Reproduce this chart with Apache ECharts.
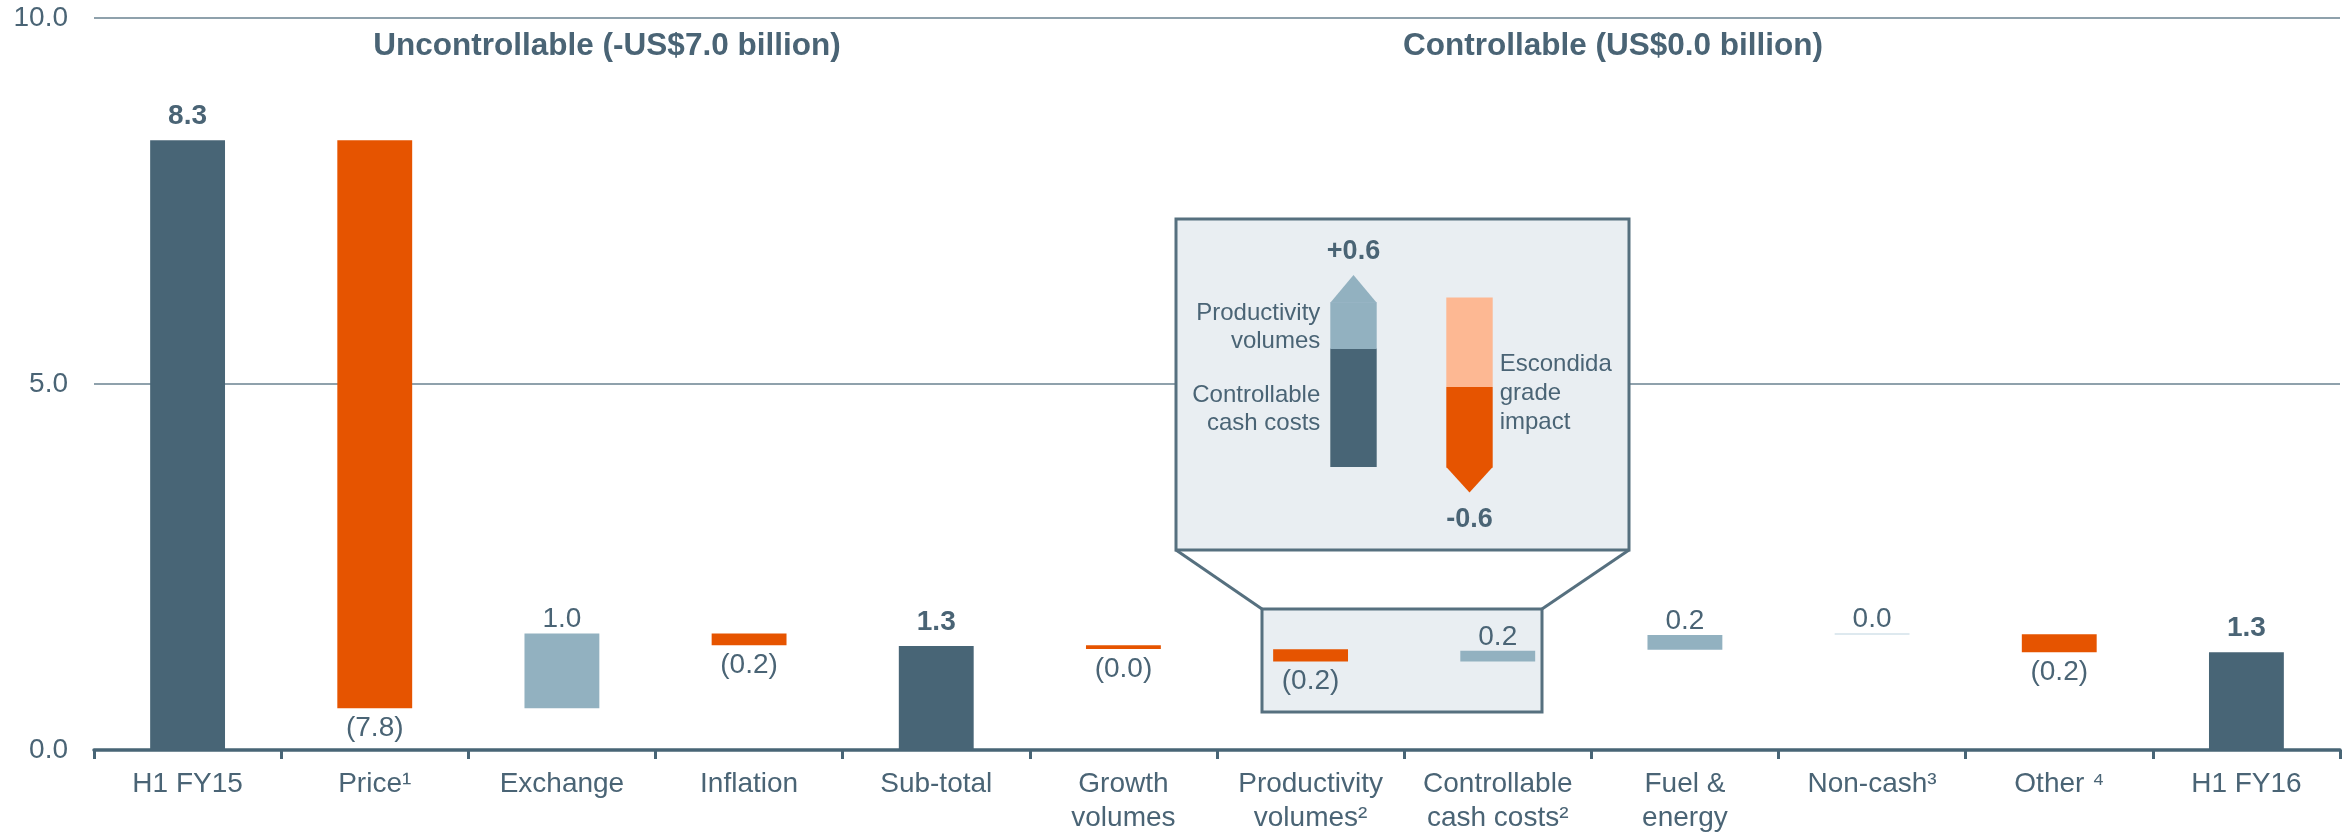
<!DOCTYPE html>
<html><head><meta charset="utf-8">
<script src="https://cdn.jsdelivr.net/npm/echarts@6/dist/echarts.min.js"></script>
<style>html,body{margin:0;padding:0;background:#fff}#c{width:2351px;height:836px}</style>
</head><body><div id="c"></div>
<script>
// ---- Main waterfall data ----
const categories = ['H1 FY15', 'Price¹', 'Exchange', 'Inflation', 'Sub-total', 'Growth\nvolumes',
  'Productivity\nvolumes²', 'Controllable\ncash costs²', 'Fuel &\nenergy', 'Non-cash³', 'Other ⁴', 'H1 FY16'];
const barLow  = [0,    0.57, 0.57, 1.43, 0,    1.38, 1.21,  1.21,  1.37, 1.575, 1.335, 0];
const barHigh = [8.33, 8.33, 1.59, 1.59, 1.42, 1.43, 1.375, 1.355, 1.57, 1.595, 1.58,  1.335];
const valueLabels = ['8.3', '(7.8)', '1.0', '(0.2)', '1.3', '(0.0)', '(0.2)', '0.2', '0.2', '0.0', '(0.2)', '1.3'];
const barKind = ['total', 'down', 'up', 'down', 'total', 'down', 'down', 'up', 'up', 'flat', 'down', 'total'];
const yTicks = [0, 5, 10];
const groupTitles = ['Uncontrollable (-US$7.0 billion)', 'Controllable (US$0.0 billion)'];

// ---- Inset data ----
const insetCats = ['Cash costs + productivity', 'Escondida grade impact'];
const insetUpStack = [0.37, 0.145, 0.085];      // controllable cash costs, productivity volumes, arrow head
const insetDownStart = 0.53;
const insetDownStack = [0.28, 0.25, 0.08];      // light part, dark part, arrow head
const insetTotals = ['+0.6', '-0.6'];
const insetUpNames = ['Controllable\ncash costs', 'Productivity\nvolumes'];
const insetDownName = 'Escondida\ngrade\nimpact';

const FONT = '"Liberation Sans", Arial, Helvetica, sans-serif';
const TXT = '#4a6475';
const DARK = '#486576', ORANGE = '#e65400', LIGHTBLUE = '#92b1c0', LIGHTORANGE = '#fdb893';
const colorFor = { total: DARK, down: ORANGE, up: LIGHTBLUE, flat: '#d3e2ea' };

function renderMain(params, api) {
  const i = api.value(0);
  const lo = api.coord([i, api.value(1)]);
  const hi = api.coord([i, api.value(2)]);
  const bw = api.size([1, 0])[0] * 0.4;
  const kind = barKind[i];
  const h = Math.max(lo[1] - hi[1], 1.5);
  const above = kind !== 'down';
  const bold = kind === 'total';
  return {
    type: 'group',
    children: [
      { type: 'rect', shape: { x: lo[0] - bw / 2, y: hi[1], width: bw, height: h }, style: { fill: colorFor[kind] } },
      { type: 'text', x: lo[0], y: above ? hi[1] - (bold ? 10 : 0) : hi[1] + h + 6,
        style: { text: valueLabels[i], fill: TXT, font: (bold ? 'bold ' : '') + '28px ' + FONT,
                 align: 'center', verticalAlign: above ? 'bottom' : 'top' } }
    ]
  };
}

function renderInset(params, api) {
  const i = params.dataIndex;
  const bw = api.size([1, 0])[0] * 0.4;
  const cx = api.coord([i, 0])[0];
  const L = cx - bw / 2, R = cx + bw / 2;
  const Y = v => api.coord([i, v])[1];
  const txt = (text, x, y, align, vAlign, bold, size, lh) => ({
    type: 'text', x, y, style: { text, fill: TXT, font: (bold ? 'bold ' : '') + size + 'px ' + FONT,
      align, verticalAlign: vAlign, lineHeight: lh } });
  const ch = [];
  if (i === 0) {
    const t1 = insetUpStack[0], t2 = t1 + insetUpStack[1], t3 = t2 + insetUpStack[2];
    ch.push({ type: 'rect', shape: { x: L, y: Y(t1), width: bw, height: Y(0) - Y(t1) }, style: { fill: DARK } });
    ch.push({ type: 'rect', shape: { x: L, y: Y(t2), width: bw, height: Y(t1) - Y(t2) + 0.5 }, style: { fill: LIGHTBLUE } });
    ch.push({ type: 'polygon', shape: { points: [[L, Y(t2) + 0.5], [R, Y(t2) + 0.5], [cx, Y(t3)]] }, style: { fill: LIGHTBLUE } });
    ch.push(txt(insetTotals[0], cx, Y(t3) - 8, 'center', 'bottom', true, 27, 30));
    ch.push(txt(insetUpNames[1], L - 10, Y((t1 + t2) / 2) + 2, 'right', 'middle', false, 24, 28));
    ch.push(txt(insetUpNames[0], L - 10, Y(t1 / 2) + 2, 'right', 'middle', false, 24, 28));
  } else {
    const s0 = insetDownStart, s1 = s0 - insetDownStack[0], s2 = s1 - insetDownStack[1], s3 = s2 - insetDownStack[2];
    ch.push({ type: 'rect', shape: { x: L, y: Y(s0), width: bw, height: Y(s1) - Y(s0) }, style: { fill: LIGHTORANGE } });
    ch.push({ type: 'rect', shape: { x: L, y: Y(s1), width: bw, height: Y(s2) - Y(s1) + 0.5 }, style: { fill: ORANGE } });
    ch.push({ type: 'polygon', shape: { points: [[L, Y(s2)], [R, Y(s2)], [cx, Y(s3)]] }, style: { fill: ORANGE } });
    ch.push(txt(insetTotals[1], cx, Y(s3) + 12, 'center', 'top', true, 27, 30));
    ch.push(txt(insetDownName, R + 7, Y(s1) + 6, 'left', 'middle', false, 24, 29));
  }
  return { type: 'group', children: ch };
}

const chart = echarts.init(document.getElementById('c'), null, { renderer: 'canvas' });
const boxStroke = '#56707f';
chart.setOption({
  animation: false,
  backgroundColor: '#ffffff',
  textStyle: { fontFamily: FONT },
  grid: [
    { left: 94, right: 11, top: 18, bottom: 86 },
    { left: 1295.5, width: 232, top: 211, height: 320 }
  ],
  xAxis: [
    { type: 'category', gridIndex: 0, data: categories, boundaryGap: true,
      axisLine: { show: true, lineStyle: { color: DARK, width: 3.5 } },
      axisTick: { show: true, interval: 0, length: 9, lineStyle: { color: DARK, width: 3 } },
      axisLabel: { interval: 0, fontSize: 28, lineHeight: 34, color: TXT, margin: 17, fontFamily: FONT },
      splitLine: { show: false } },
    { type: 'category', gridIndex: 1, data: insetCats, show: false }
  ],
  yAxis: [
    { type: 'value', gridIndex: 0, min: 0, max: 10, interval: 5,
      axisLine: { show: false }, axisTick: { show: false },
      axisLabel: { fontSize: 28, color: TXT, margin: 26, fontFamily: FONT,
        formatter: v => yTicks.includes(v) ? v.toFixed(1) : '' },
      splitLine: { show: true, lineStyle: { color: '#6a8290', width: 1.5 } } },
    { type: 'value', gridIndex: 1, min: -0.2, max: 0.8, show: false, splitLine: { show: false } }
  ],
  graphic: [
    { type: 'rect', z: 1, shape: { x: 1176, y: 219, width: 453, height: 331 },
      style: { fill: '#e9eef2', stroke: boxStroke, lineWidth: 3 } },
    { type: 'rect', z: 1, shape: { x: 1262, y: 609, width: 280, height: 103 },
      style: { fill: '#e9eef2', stroke: boxStroke, lineWidth: 3 } },
    { type: 'line', z: 1, shape: { x1: 1176, y1: 550, x2: 1262, y2: 609 }, style: { stroke: boxStroke, lineWidth: 3 } },
    { type: 'line', z: 1, shape: { x1: 1629, y1: 550, x2: 1542, y2: 609 }, style: { stroke: boxStroke, lineWidth: 3 } },
    { type: 'text', z: 3, x: 607, y: 46, style: { text: groupTitles[0], fill: TXT, font: 'bold 31.5px ' + FONT, align: 'center', verticalAlign: 'middle' } },
    { type: 'text', z: 3, x: 1613, y: 46, style: { text: groupTitles[1], fill: TXT, font: 'bold 31.5px ' + FONT, align: 'center', verticalAlign: 'middle' } }
  ],
  series: [
    { type: 'custom', xAxisIndex: 0, yAxisIndex: 0, z: 5, renderItem: renderMain,
      encode: { x: 0, y: [1, 2] },
      data: categories.map((c, i) => [i, barLow[i], barHigh[i]]) },
    { type: 'custom', xAxisIndex: 1, yAxisIndex: 1, z: 5, renderItem: renderInset,
      encode: { x: 0, y: 1 },
      data: insetCats.map((c, i) => [i, 0]) }
  ]
});
</script></body></html>
